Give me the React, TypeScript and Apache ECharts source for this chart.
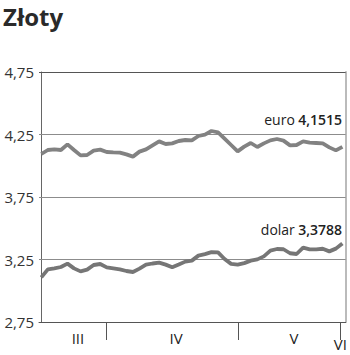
import React, { useEffect, useRef } from "react";
import * as echarts from "echarts";

const euroValues = [4.094,4.126,4.131,4.126,4.171,4.126,4.083,4.086,4.121,4.129,4.110,4.107,4.105,4.091,4.073,4.113,4.131,4.163,4.195,4.174,4.179,4.198,4.206,4.203,4.238,4.249,4.278,4.267,4.217,4.166,4.115,4.153,4.182,4.150,4.179,4.203,4.214,4.201,4.163,4.166,4.195,4.185,4.182,4.179,4.147,4.123,4.1515];
const dollarValues = [3.107,3.171,3.179,3.190,3.217,3.179,3.155,3.169,3.206,3.214,3.187,3.179,3.171,3.158,3.150,3.177,3.209,3.218,3.225,3.209,3.188,3.210,3.233,3.241,3.281,3.293,3.309,3.307,3.254,3.215,3.209,3.221,3.241,3.251,3.275,3.321,3.334,3.332,3.300,3.294,3.345,3.331,3.331,3.336,3.315,3.337,3.3788];
const yTicks = [2.75, 3.25, 3.75, 4.25, 4.75];
const monthBoundaries = [10, 30.1, 45.6];
const monthLabels = ["III", "IV", "V", "VI"];
const monthLabelPos = [5.6, 20.6, 38.6, 45.7];

const fmt = (v: number, d: number) => v.toFixed(d).replace(".", ",");

export default function App() {
  const ref = useRef<HTMLDivElement>(null);
  useEffect(() => {
    document.body.style.margin = "0";
    const chart = echarts.init(ref.current!, null, { renderer: "svg" });
    const font = "'Open Sans', 'DejaVu Sans', sans-serif";
    chart.setOption({
      animation: false,
      textStyle: { fontFamily: font },
      grid: { left: 39, right: 3.5, top: 72, bottom: 33 },
      xAxis: {
        type: "value",
        min: -0.35,
        max: 46.5,
        axisLine: { show: true, lineStyle: { color: "#555", width: 1 } },
        axisTick: {
          show: true,
          customValues: monthBoundaries,
          length: 18,
          lineStyle: { color: "#555", width: 1 },
        },
        axisLabel: {
          customValues: monthLabelPos,
          margin: 8,
          color: "#222",
          fontSize: 15,
          fontFamily: font,
          formatter: (v: number) => {
            const i = monthLabelPos.findIndex((p) => Math.abs(p - v) < 1e-6);
            const t = i >= 0 ? monthLabels[i] : "";
            return t === "VI" ? "{vi|VI}" : t;
          },
          rich: { vi: { padding: [6, 0, 0, 0], fontSize: 15, color: "#222", fontFamily: font } },
        },
        splitLine: { show: false },
      },
      yAxis: [
        {
          type: "value",
          min: 2.75,
          max: 4.75,
          axisLine: { show: true, lineStyle: { color: "#666", width: 1 } },
          axisTick: { show: false },
          axisLabel: {
            customValues: yTicks,
            formatter: (v: number) => fmt(v, 2),
            color: "#333",
            fontSize: 15,
            fontFamily: font,
            margin: 5,
          },
          splitLine: { show: false },
        },
        {
          type: "value",
          min: 2.75,
          max: 4.75,
          position: "right",
          axisLine: { show: true, lineStyle: { color: "#bbb", width: 2 } },
          axisTick: { show: false },
          axisLabel: { show: false },
          splitLine: { show: false },
        },
      ],
      series: [
        {
          type: "line",
          data: euroValues.map((v, i) => [i, v]),
          showSymbol: false,
          symbol: "none",
          lineStyle: { color: "#828282", width: 3.8 },
          z: 3,
          markLine: {
            silent: true,
            symbol: "none",
            label: { show: false },
            z: 1,
            data: yTicks.slice(1).map((v, i, a) => ({
              yAxis: v,
              lineStyle: {
                color: i === a.length - 1 ? "#555" : "#8c8c8c",
                width: 1,
                type: "solid",
              },
            })),
          },
        },
        {
          type: "line",
          data: dollarValues.map((v, i) => [i, v]),
          showSymbol: false,
          symbol: "none",
          lineStyle: { color: "#767676", width: 3.8 },
          z: 3,
        },
      ],
      graphic: [
        {
          type: "text",
          left: 3,
          top: 4,
          style: {
            text: "Złoty",
            font: `bold 24px ${font}`,
            fill: "#2a2a2a",
          },
        },
        {
          type: "text",
          right: 8,
          top: 112,
          style: {
            text: `{n|euro} {v|${fmt(euroValues[euroValues.length - 1], 4)}}`,
            rich: {
              n: { fontSize: 14, fontFamily: font, fill: "#222", fontWeight: "normal" },
              v: { fontSize: 14, fontFamily: font, fill: "#222", fontWeight: 600 },
            },
          },
        },
        {
          type: "text",
          right: 8,
          top: 222,
          style: {
            text: `{n|dolar} {v|${fmt(dollarValues[dollarValues.length - 1], 4)}}`,
            rich: {
              n: { fontSize: 14, fontFamily: font, fill: "#222", fontWeight: "normal" },
              v: { fontSize: 14, fontFamily: font, fill: "#222", fontWeight: 600 },
            },
          },
        },
      ],
    });
    return () => chart.dispose();
  }, []);
  return <div ref={ref} style={{ width: 350, height: 355 }} />;
}
